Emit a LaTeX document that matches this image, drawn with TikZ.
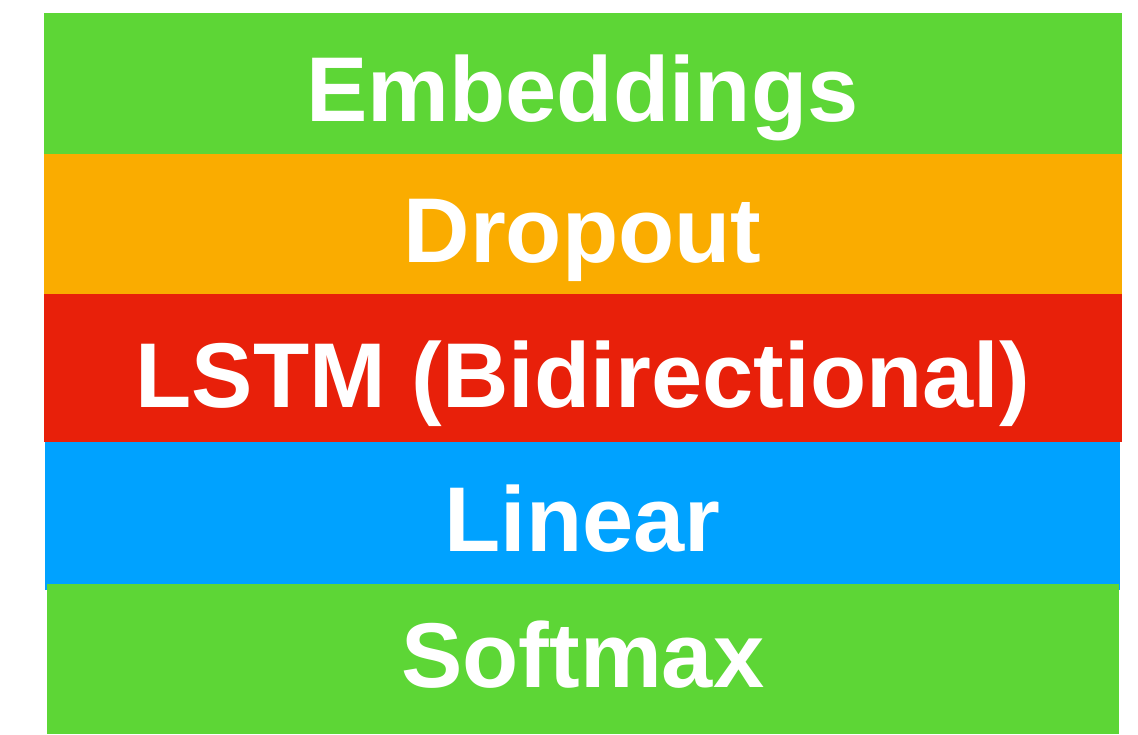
\documentclass[tikz,border=0pt]{standalone}
\usepackage{fontspec}
\setmainfont{Liberation Sans}
\definecolor{kgreen}{RGB}{93,214,54}
\definecolor{korange}{RGB}{250,172,0}
\definecolor{kred}{RGB}{232,32,10}
\definecolor{kblue}{RGB}{0,162,255}
\tikzset{
  layer/.style={rectangle, draw=none, inner sep=0pt, outer sep=0pt},
  lbl/.style={text=white, inner sep=0pt, anchor=base, font=\fontsize{92pt}{92pt}\selectfont\bfseries}
}
\begin{document}
\begin{tikzpicture}[x=1pt,y=-1pt]
\useasboundingbox[fill=white] (0,0) rectangle (1138,734);
\node[layer, fill=kgreen, minimum width=1078pt, minimum height=141.5pt] (emb) at (582.5,83.25) {};
\node[layer, fill=korange, minimum width=1078pt, minimum height=140pt] (drop) at (582.5,224) {};
\node[layer, fill=kred, minimum width=1077.5pt, minimum height=148pt] (lstm) at (582.75,368) {};
\node[layer, fill=kblue, minimum width=1075pt, minimum height=148pt] (lin) at (582.5,516) {};
\node[layer, fill=kgreen, minimum width=1072.5pt, minimum height=149.5pt] (soft) at (582.75,658.75) {};
\node[lbl] (embT) at ([yshift=-37.75pt]emb.center) {Embeddings};
\node[lbl] (dropT) at ([yshift=-38pt]drop.center) {Dropout};
\node[lbl] (lstmT) at ([yshift=-39pt]lstm.center) {LSTM (Bidirectional)};
\node[lbl] (linT) at ([yshift=-35pt]lin.center) {Linear};
\node[lbl] (softT) at ([yshift=-29pt]soft.center) {Softmax};
\end{tikzpicture}
\end{document}
